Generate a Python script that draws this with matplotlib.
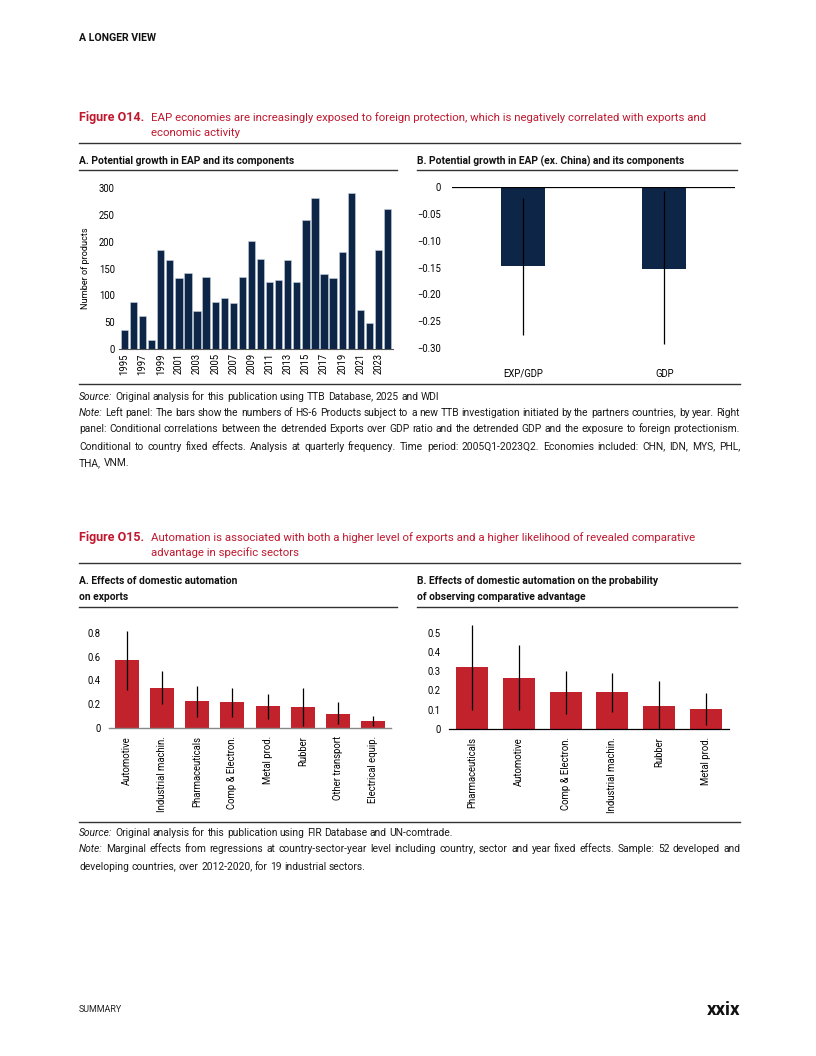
import matplotlib
matplotlib.use("Agg")
import matplotlib.pyplot as plt
from matplotlib.lines import Line2D
import numpy as np

# ---------------- data ----------------
years = list(range(1995, 2025))
products = [35, 88, 61, 16, 185, 165, 132, 141, 71, 135, 87, 95, 85, 134, 201,
            168, 125, 129, 166, 124, 241, 281, 140, 133, 181, 291, 73, 48, 185, 260]

corr_cats = ["EXP/GDP", "GDP"]
corr_vals = [-0.148, -0.152]
corr_lo = [-0.275, -0.292]
corr_hi = [-0.020, -0.007]

exp_cats = ["Automotive", "Industrial machin.", "Pharmaceuticals", "Comp & Electron.",
            "Metal prod.", "Rubber", "Other transport", "Electrical equip."]
exp_vals = [0.57, 0.34, 0.225, 0.215, 0.185, 0.18, 0.12, 0.06]
exp_lo = [0.32, 0.20, 0.09, 0.09, 0.075, 0.02, 0.03, 0.015]
exp_hi = [0.82, 0.48, 0.355, 0.335, 0.29, 0.34, 0.215, 0.105]

rca_cats = ["Pharmaceuticals", "Automotive", "Comp & Electron.", "Industrial machin.",
            "Rubber", "Metal prod."]
rca_vals = [0.32, 0.265, 0.19, 0.19, 0.12, 0.105]
rca_lo = [0.10, 0.10, 0.08, 0.09, 0.0, 0.02]
rca_hi = [0.54, 0.435, 0.30, 0.29, 0.25, 0.185]

# ---------------- style ----------------
plt.rcParams['font.family'] = ['Roboto', 'DejaVu Sans']
NAVY = "#0d2547"
RED = "#c1222b"
TRED = "#c0182f"
RULE = "#333333"
INK = "#1a1a1a"

W, H = 816, 1056
fig = plt.figure(figsize=(W / 100, H / 100), dpi=100)
renderer = fig.canvas.get_renderer()


def fx(x):
    return x / W


def fy(y):
    return 1 - y / H


def measure(s, size=10, **kw):
    t = fig.text(0, 0, s, size=size, **kw)
    w = t.get_window_extent(renderer).width
    t.remove()
    return w


def fit(s, width, **kw):
    return 10 * width / measure(s, 10, **kw)


def text(x, y, s, **kw):
    kw.setdefault('va', 'center')
    kw.setdefault('ha', 'left')
    return fig.text(fx(x), fy(y), s, **kw)


def hline(y, x0, x1, lw=1.0, color=RULE):
    fig.add_artist(Line2D([fx(x0), fx(x1)], [fy(y), fy(y)], transform=fig.transFigure,
                          lw=lw, color=color))


def axes_px(x0, y0, x1, y1):
    return fig.add_axes([fx(x0), fy(y1), fx(x1) - fx(x0), (y1 - y0) / H])


def segs(line, italic_first=False):
    words = line.split(' ')
    return [(w, 'italic' if (italic_first and i == 0) else 'normal') for i, w in enumerate(words)]


BASE_OFF = 3.5  # centre-line -> baseline offset in px for note text


def justify(y, segments, size, x0=79, x1=740):
    objs, widths = [], []
    for w, st in segments:
        t = text(x0, y + BASE_OFF, w, size=size, style=st, color=INK, va='baseline')
        objs.append(t)
        widths.append(t.get_window_extent(renderer).width)
    gap = ((x1 - x0) - sum(widths)) / max(len(objs) - 1, 1)
    x = x0
    for t, wd in zip(objs, widths):
        t.set_x(fx(x))
        x += wd + gap


def plain_line(y, segments, size, x0=79):
    space = measure("a a", size) - measure("aa", size)
    x = x0
    for w, st in segments:
        t = text(x, y + BASE_OFF, w, size=size, style=st, color=INK, va='baseline')
        x += t.get_window_extent(renderer).width + space


# ---------- fitted sizes (from reference text widths) ----------
S_HEAD = fit("A LONGER VIEW", 77, weight='bold')
S_FIG = (fit("Figure O14.", 65, weight='bold') + fit("Figure O15.", 66, weight='bold')) / 2
S_TITLE = (fit("EAP economies are increasingly exposed to foreign protection, which is negatively correlated with exports and", 553)
           + fit("Automation is associated with both a higher level of exports and a higher likelihood of revealed comparative", 547)) / 2
S_PANEL = (fit("A. Potential growth in EAP and its components", 217, weight='bold')
           + fit("B. Potential growth in EAP (ex. China) and its components", 271, weight='bold')
           + fit("A. Effects of domestic automation", 158, weight='bold')
           + fit("B. Effects of domestic automation on the probability", 244, weight='bold')) / 4
S_NOTE = (fit("Source: Original analysis for this publication using TTB Database, 2025 and WDI", 362)
          + fit("Source: Original analysis for this publication using FIR Database and UN-comtrade.", 377)
          + fit("developing countries, over 2012-2020, for 19 industrial sectors.", 283)) / 3
S_TICK = (fit("Pharmaceuticals", 67) + fit("1995", 23) + fit("\u22120.30", 25) + fit("EXP/GDP", 37)) / 4
S_YLAB = fit("Number of products", 82)
S_SUM = fit("SUMMARY", 43)
S_PAGE = fit("xxix", 34, weight='bold')

# ---------------- page header ----------------
text(79, 38, "A LONGER VIEW", size=S_HEAD, weight='bold', color="#111111")

# ---------------- Figure O14 ----------------
text(79, 118, "Figure O14.", size=S_FIG, weight='bold', color=TRED)
text(151, 118, "EAP economies are increasingly exposed to foreign protection, which is negatively correlated with exports and",
     size=S_TITLE, color=TRED)
text(151, 133, "economic activity", size=S_TITLE, color=TRED)
hline(143, 79, 740)
text(79, 161, "A. Potential growth in EAP and its components", size=S_PANEL, weight='bold', color="#111111")
text(417, 161, "B. Potential growth in EAP (ex. China) and its components", size=S_PANEL, weight='bold', color="#111111")
hline(170, 79, 397)
hline(170, 417, 737)

# Panel A: bars
axA = axes_px(119, 188, 393, 349)
xA = np.arange(len(years))
axA.bar(xA, products, width=0.8, color=NAVY, edgecolor="#c8d2e0", linewidth=0.4)
axA.set_xlim(-0.6, len(years) - 0.4)
axA.set_ylim(0, 300)
axA.set_yticks([0, 50, 100, 150, 200, 250, 300])
axA.set_xticks(xA[::2])
axA.set_xticklabels([str(y) for y in years[::2]], rotation=90)
axA.tick_params(axis='both', length=0, labelsize=S_TICK, pad=3)
for s in ['top', 'right', 'left']:
    axA.spines[s].set_visible(False)
axA.spines['bottom'].set_color("#555555")
axA.spines['bottom'].set_linewidth(0.8)
axA.set_ylabel("Number of products", size=S_YLAB)
axA.yaxis.set_label_coords(-0.105, 0.5)

# Panel B: correlations
axB = axes_px(452, 187, 735, 348)
xB = np.arange(len(corr_cats))
axB.bar(xB, corr_vals, width=0.31, color=NAVY)
errB = [np.array(corr_vals) - np.array(corr_lo), np.array(corr_hi) - np.array(corr_vals)]
axB.errorbar(xB, corr_vals, yerr=errB, fmt='none', ecolor='black', elinewidth=0.9, capsize=0)
axB.axhline(0, color='black', lw=0.9)
axB.set_xlim(-0.5, 1.5)
axB.set_ylim(-0.30, 0)
axB.set_yticks([0, -0.05, -0.10, -0.15, -0.20, -0.25, -0.30])
axB.set_yticklabels(["0", "\u22120.05", "\u22120.10", "\u22120.15", "\u22120.20", "\u22120.25", "\u22120.30"])
axB.set_xticks(xB)
axB.set_xticklabels(corr_cats)
axB.tick_params(axis='y', length=0, labelsize=S_TICK, pad=8)
axB.tick_params(axis='x', length=0, labelsize=S_TICK, pad=15)
for s in ['top', 'right', 'left', 'bottom']:
    axB.spines[s].set_visible(False)

hline(384, 79, 740)

# notes O14
plain_line(396, [("Source:", 'italic')] + segs("Original analysis for this publication using TTB Database, 2025 and WDI"), S_NOTE)
justify(412, segs("Note: Left panel: The bars show the numbers of HS-6 Products subject to a new TTB investigation initiated by the partners countries, by year. Right", True), S_NOTE)
justify(429, segs("panel: Conditional correlations between the detrended Exports over GDP ratio and the detrended GDP and the exposure to foreign protectionism."), S_NOTE)
justify(446, segs("Conditional to country fixed effects. Analysis at quarterly frequency. Time period: 2005Q1-2023Q2. Economies included: CHN, IDN, MYS, PHL,"), S_NOTE)
plain_line(463, segs("THA, VNM."), S_NOTE)

# ---------------- Figure O15 ----------------
text(79, 538, "Figure O15.", size=S_FIG, weight='bold', color=TRED)
text(151, 538, "Automation is associated with both a higher level of exports and a higher likelihood of revealed comparative",
     size=S_TITLE, color=TRED)
text(151, 553, "advantage in specific sectors", size=S_TITLE, color=TRED)
hline(563, 79, 740)
text(79, 581, "A. Effects of domestic automation", size=S_PANEL, weight='bold', color="#111111")
text(79, 597, "on exports", size=S_PANEL, weight='bold', color="#111111")
text(417, 581, "B. Effects of domestic automation on the probability", size=S_PANEL, weight='bold', color="#111111")
text(417, 597, "of observing comparative advantage", size=S_PANEL, weight='bold', color="#111111")
hline(607, 79, 397)
hline(607, 417, 737)

# Panel A (O15)
axC = axes_px(109, 627, 391, 728)
xC = np.arange(len(exp_cats))
axC.bar(xC, exp_vals, width=0.68, color=RED)
errC = [np.array(exp_vals) - np.array(exp_lo), np.array(exp_hi) - np.array(exp_vals)]
axC.errorbar(xC, exp_vals, yerr=errC, fmt='none', ecolor='black', elinewidth=0.9, capsize=0)
axC.set_xlim(-0.5, len(exp_cats) - 0.5)
axC.set_ylim(0, 0.85)
axC.set_yticks([0, 0.2, 0.4, 0.6, 0.8])
axC.set_yticklabels(["0", "0.2", "0.4", "0.6", "0.8"])
axC.set_xticks(xC)
axC.set_xticklabels(exp_cats, rotation=90)
axC.tick_params(axis='both', length=0, labelsize=S_TICK, pad=6)
for s in ['top', 'right', 'left']:
    axC.spines[s].set_visible(False)
axC.spines['bottom'].set_color("#888888")
axC.spines['bottom'].set_linewidth(1.0)

# Panel B (O15)
axD = axes_px(449, 623, 729, 729)
xD = np.arange(len(rca_cats))
axD.bar(xD, rca_vals, width=0.68, color=RED)
errD = [np.array(rca_vals) - np.array(rca_lo), np.array(rca_hi) - np.array(rca_vals)]
axD.errorbar(xD, rca_vals, yerr=errD, fmt='none', ecolor='black', elinewidth=0.9, capsize=0)
axD.set_xlim(-0.5, len(rca_cats) - 0.5)
axD.set_ylim(0, 0.55)
axD.set_yticks([0, 0.1, 0.2, 0.3, 0.4, 0.5])
axD.set_yticklabels(["0", "0.1", "0.2", "0.3", "0.4", "0.5"])
axD.set_xticks(xD)
axD.set_xticklabels(rca_cats, rotation=90)
axD.tick_params(axis='both', length=0, labelsize=S_TICK, pad=6)
for s in ['top', 'right', 'left']:
    axD.spines[s].set_visible(False)
axD.spines['bottom'].set_color("black")
axD.spines['bottom'].set_linewidth(0.9)

hline(822, 79, 740)
plain_line(832, [("Source:", 'italic')] + segs("Original analysis for this publication using FIR Database and UN-comtrade."), S_NOTE)
justify(849, segs("Note: Marginal effects from regressions at country-sector-year level including country, sector and year fixed effects. Sample: 52 developed and", True), S_NOTE)
plain_line(866, segs("developing countries, over 2012-2020, for 19 industrial sectors."), S_NOTE)

# ---------------- footer ----------------
text(79, 1010, "SUMMARY", size=S_SUM, color="#222222")
text(740, 1010, "xxix", size=S_PAGE, weight='bold', color="#111111", ha='right')

fig.savefig("out.png", dpi=100)
